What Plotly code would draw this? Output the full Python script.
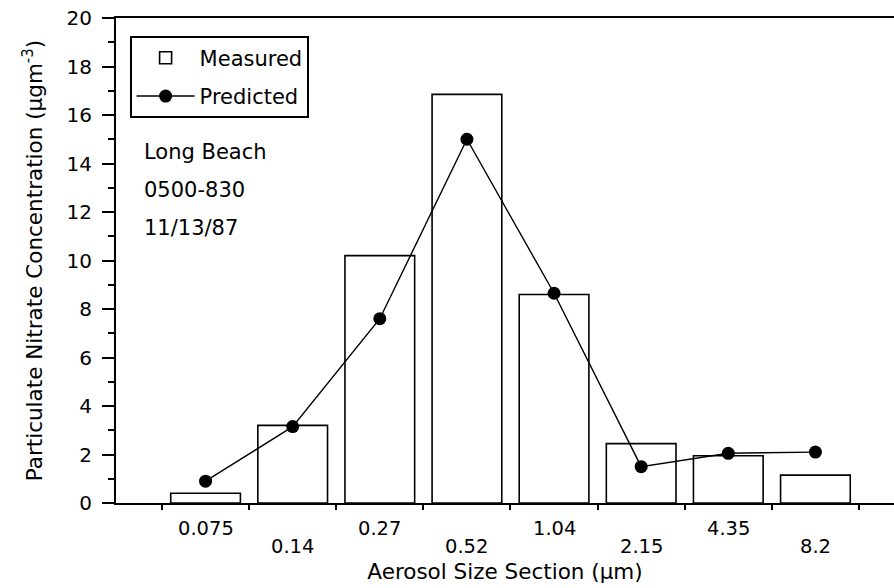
import plotly.graph_objects as go

# Aerosol size sections (µm) and nitrate concentrations (µg m^-3)
sizes = ["0.075", "0.14", "0.27", "0.52", "1.04", "2.15", "4.35", "8.2"]
measured = [0.4, 3.2, 10.2, 16.85, 8.6, 2.45, 1.95, 1.15]
predicted = [0.9, 3.15, 7.6, 15.0, 8.65, 1.5, 2.05, 2.1]
site_notes = ["Long Beach", "0500-830", "11/13/87"]

FONT = "DejaVu Sans"
W, H = 894, 588
ML, MR, MT, MB = 116, 0, 18, 85
PW, PH = W - ML - MR, H - MT - MB

pos = list(range(len(sizes)))
edges = [p - 0.5 for p in pos] + [pos[-1] + 0.5]


def px_to_paper_x(px):
    return (px - ML) / PW


def px_to_paper_y(py):
    return (H - MB - py) / PH


fig = go.Figure()

fig.add_trace(go.Bar(
    x=pos, y=measured, width=0.8, name="Measured",
    marker=dict(color="white", line=dict(color="black", width=1.6)),
    legendgroup="m",
))
fig.add_trace(go.Scatter(
    x=pos, y=predicted, mode="lines+markers", name="Predicted",
    line=dict(color="black", width=1.4),
    marker=dict(color="black", size=13),
    legendgroup="p",
))

# size-section labels, staggered on two rows
for i, lab in enumerate(sizes):
    fig.add_annotation(
        x=pos[i], xref="x", y=0, yref="paper", yanchor="middle",
        yshift=-25 if i % 2 == 0 else -43,
        text=lab, showarrow=False,
        font=dict(family=FONT, size=19.5, color="black"),
    )

# sampling site / time / date notes
for j, note in enumerate(site_notes):
    fig.add_annotation(
        x=px_to_paper_x(142), xref="paper", xanchor="left",
        y=px_to_paper_y(152 + 38 * j), yref="paper", yanchor="middle",
        text=note, showarrow=False,
        font=dict(family=FONT, size=21, color="black"),
    )

fig.update_layout(
    width=W, height=H,
    margin=dict(l=ML, r=MR, t=MT, b=MB),
    paper_bgcolor="white", plot_bgcolor="white",
    font=dict(family=FONT, color="black"),
    bargap=0.2,
    showlegend=True,
    legend=dict(
        x=px_to_paper_x(130), y=px_to_paper_y(36),
        xanchor="left", yanchor="top",
        bordercolor="black", borderwidth=1.6, bgcolor="white",
        font=dict(family=FONT, size=21, color="black"),
        itemwidth=58, traceorder="grouped", tracegroupgap=8,
    ),
    xaxis=dict(
        range=[-1.028, 7.902],
        showline=True, linecolor="black", linewidth=2, mirror=True,
        ticks="outside", tickmode="array", tickvals=edges,
        ticklen=5, tickwidth=1.5, tickcolor="black",
        showticklabels=False, showgrid=False, zeroline=False,
        title=dict(text="Aerosol Size Section (\u03bcm)", standoff=55,
                   font=dict(family=FONT, size=21.5, color="black")),
        automargin=False,
    ),
    xaxis2=dict(
        overlaying="x", matches="x", anchor="y",
        ticks="inside", tickmode="array", tickvals=edges,
        ticklen=5, tickwidth=1.5, tickcolor="black",
        showticklabels=False, showline=False, showgrid=False, zeroline=False,
    ),
    yaxis=dict(
        range=[0, 20], dtick=2, tick0=0,
        showline=True, linecolor="black", linewidth=2,
        ticks="outside", ticklen=12, tickwidth=1.5, tickcolor="black",
        minor=dict(dtick=1, tick0=0, ticks="outside", ticklen=6,
                   tickwidth=1.5, tickcolor="black", showgrid=False),
        ticklabelstandoff=6,
        tickfont=dict(family=FONT, size=20, color="black"),
        showgrid=False, zeroline=False,
        title=dict(text="Particulate Nitrate Concentration (\u03bcgm<sup>-3</sup>)",
                   standoff=18, font=dict(family=FONT, size=21.5, color="black")),
        automargin=False,
    ),
    shapes=[dict(type="line", xref="paper", yref="y",
                 x0=-8 / PW, x1=0, y0=0, y1=0,
                 line=dict(color="black", width=2))],
)

fig.write_html("out.html")
